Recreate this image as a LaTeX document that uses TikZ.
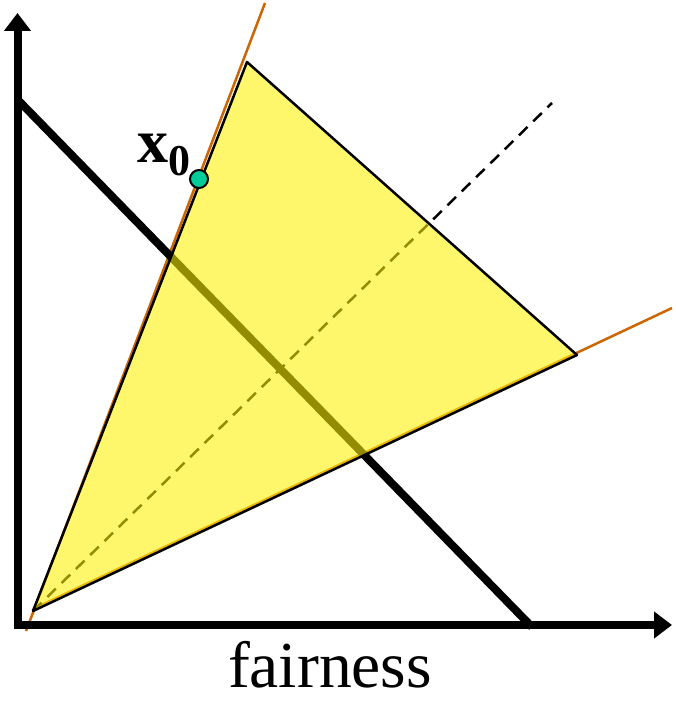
\documentclass[tikz,border=0pt]{standalone}
\usepackage{fontspec}
\setmainfont{Liberation Serif}
\usetikzlibrary{arrows.meta}

\definecolor{rayorange}{RGB}{204,102,0}
\definecolor{ptgreen}{RGB}{0,204,153}

\begin{document}
\begin{tikzpicture}[
    x=1pt, y=-1pt,
    axis/.style={line width=8pt, {Triangle[length=18pt,width=26pt]}-{Triangle[length=18pt,width=26pt]}},
    ray/.style={draw=rayorange, line width=2.5pt},
    effline/.style={line width=8pt},
    fairline/.style={dash pattern=on 12pt off 8pt, line width=2.5pt},
    region/.style={fill=yellow, fill opacity=0.58, draw=black, line width=2.5pt, line join=round},
    pt/.style={circle, draw, line width=2pt, fill=ptgreen, minimum size=18pt, inner sep=0pt}
]
\useasboundingbox (0,0) rectangle (675,701);

\coordinate (ytip) at (17.5,13);
\coordinate (corner) at (17.5,625);
\coordinate (xtip) at (672,625);
\coordinate (o) at (33,611);
\coordinate (top) at (247,62);
\coordinate (right) at (577,355);

% rays through the origin
\coordinate (r1a) at (26,631);
\coordinate (r1b) at (265,3);
\coordinate (r2a) at (33,609);
\coordinate (r2b) at (672,308);
\draw[ray] (r1a) -- (r1b);
\draw[ray] (r2a) -- (r2b);

% axes
\draw[axis] (ytip) -- (corner) -- (xtip);

% efficiency and fairness lines
\coordinate (e1) at (18,100);
\coordinate (e2) at (532,627);
\coordinate (f2) at (552,103);
\draw[effline] (e1) -- (e2);
\draw[fairline] (o) -- (f2);

% reachable region
\draw[region] (o) -- (top) -- (right) -- cycle;

\node[pt] (x0) at (199,179) {};
\node[anchor=base west, inner sep=0] (xlab) at (137,162)
    {\fontsize{62}{62}\selectfont\bfseries x\raisebox{-13pt}{\fontsize{44}{44}\selectfont 0}};

\node[anchor=base, inner sep=0] (fair) at (330,687) {\fontsize{65.6}{66}\selectfont fairness};
\end{tikzpicture}
\end{document}
